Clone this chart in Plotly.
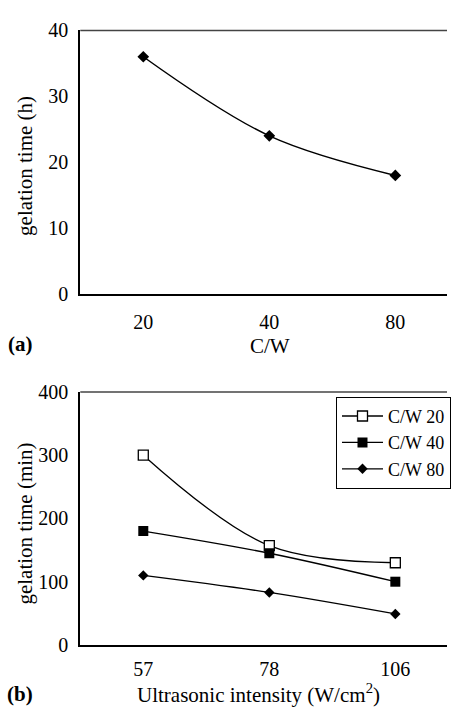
import plotly.graph_objects as go

# Panel (a): gelation time vs C/W ratio
cw_labels = ["20", "40", "80"]
gel_time_h = [36, 24, 18]

# Panel (b): gelation time vs ultrasonic intensity
intensity_labels = ["57", "78", "106"]
series_names = ["C/W 20", "C/W 40", "C/W 80"]
cw20_min = [300, 157, 130]
cw40_min = [180, 145, 100]
cw80_min = [110, 83, 49]

FONT = "Liberation Serif, Times New Roman, serif"
W, H = 451, 718

fig = go.Figure()

fig.add_trace(go.Scatter(
    x=cw_labels, y=gel_time_h, xaxis="x", yaxis="y",
    mode="lines+markers", line=dict(color="black", width=1.5, shape="spline"),
    marker=dict(symbol="diamond", size=9, color="black"),
    showlegend=False,
))

styles = [
    dict(symbol="square", size=10, color="white", line=dict(color="black", width=1.3)),
    dict(symbol="square", size=10, color="black"),
    dict(symbol="diamond", size=8, color="black"),
]
for name, vals, mk in zip(series_names, [cw20_min, cw40_min, cw80_min], styles):
    fig.add_trace(go.Scatter(
        x=intensity_labels, y=vals, xaxis="x2", yaxis="y2", name=name,
        mode="lines+markers", line=dict(color="black", width=1.3, shape="spline"),
        marker=mk,
    ))

def px_x(p):
    return p / W

def px_y(p):
    return 1 - p / H

x_dom = [px_x(81), 1.0]
axis_common = dict(
    showline=True, linecolor="black", linewidth=2, showgrid=False, zeroline=False,
    ticks="", tickfont=dict(family=FONT, size=20, color="black"),
)

fig.update_layout(
    width=W, height=H, margin=dict(l=0, r=0, t=0, b=0),
    paper_bgcolor="white", plot_bgcolor="white",
    xaxis=dict(domain=x_dom, anchor="y", type="category", range=[-0.5, 2.41],
               ticklabelstandoff=9, **axis_common),
    yaxis=dict(domain=[px_y(292), px_y(20)], anchor="x", range=[0, 40],
               tickvals=[0, 10, 20, 30, 40], ticklabelstandoff=6, **axis_common),
    xaxis2=dict(domain=x_dom, anchor="y2", type="category", range=[-0.5, 2.41],
                ticklabelstandoff=5, **axis_common),
    yaxis2=dict(domain=[px_y(654), px_y(393)], anchor="x2", range=[0, 400],
                tickvals=[0, 100, 200, 300, 400], ticklabelstandoff=6, **axis_common),
    legend=dict(x=px_x(339), y=px_y(398), xanchor="left", yanchor="top",
                bgcolor="white", bordercolor="black", borderwidth=1, itemwidth=41,
                font=dict(family=FONT, size=18, color="black")),
    showlegend=True,
)

# thin frame line along the top of each panel
for xr, yr in [("x domain", "y domain"), ("x2 domain", "y2 domain")]:
    fig.add_shape(type="line", xref=xr, yref=yr, x0=0, x1=1, y0=1, y1=1,
                  line=dict(color="#444444", width=1.5))

title_font = dict(family=FONT, size=21, color="black")
ann = [
    dict(text="gelation time (h)", x=px_x(25), y=px_y(160), textangle=-90, yanchor="middle"),
    dict(text="C/W", x=px_x(272), y=px_y(360), yanchor="bottom"),
    dict(text="<b>(a)</b>", x=px_x(21), y=px_y(358), yanchor="bottom"),
    dict(text="gelation time (min)", x=px_x(25), y=px_y(529), textangle=-90, yanchor="middle"),
    dict(text="Ultrasonic intensity (W/cm<sup>2</sup>)", x=px_x(261), y=px_y(720), yanchor="bottom"),
    dict(text="<b>(b)</b>", x=px_x(20), y=px_y(719), yanchor="bottom"),
]
for a in ann:
    fig.add_annotation(xref="paper", yref="paper", showarrow=False,
                       xanchor="center", font=title_font, **a)

fig.write_html("out.html")
